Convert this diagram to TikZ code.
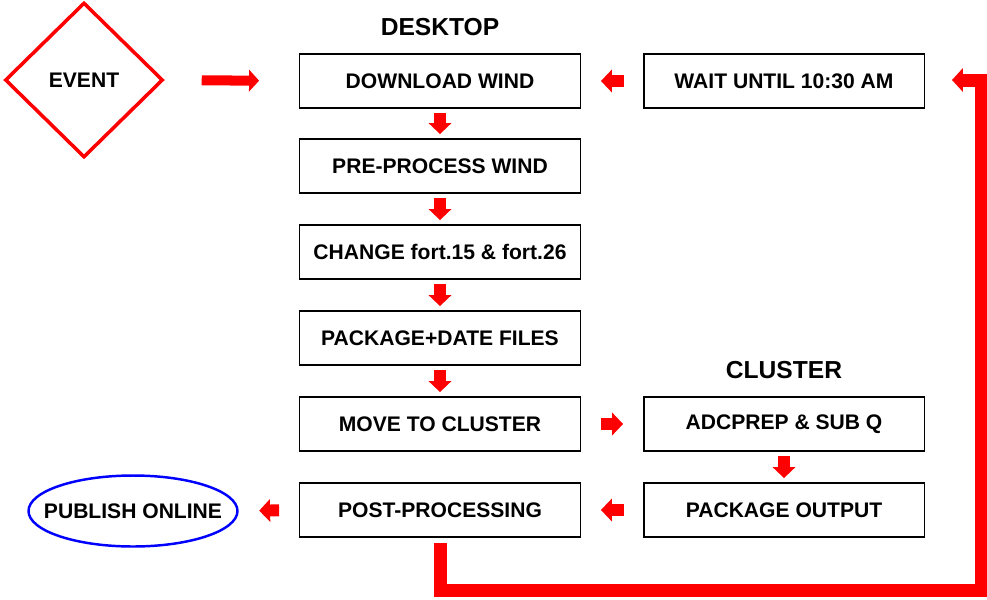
\documentclass[tikz,border=0pt]{standalone}
\usepackage{fontspec}
\setmainfont{Liberation Sans}
\usetikzlibrary{shapes.geometric,arrows.meta}

\begin{document}
\begin{tikzpicture}[x=0.02cm,y=-0.02cm,
  box/.style={draw,line width=1.1pt,minimum width=5.62cm,minimum height=1.08cm,
    font=\bfseries\fontsize{12}{14}\selectfont},
  title/.style={font=\bfseries\fontsize{14}{16}\selectfont},
  blk/.style={red,line width=6.8pt,-{Triangle[width=13pt,length=6.2pt,line width=0pt]}},
  fb/.style={red,line width=7.4pt,-{Triangle[width=13.6pt,length=6.2pt,line width=0pt]}}]
\useasboundingbox (0,0) rectangle (987,599);
% start and end
\node[diamond,draw=red,line width=2pt,minimum width=3.16cm,minimum height=3.1cm,
  font=\bfseries\fontsize{12}{14}\selectfont] (event) at (84,80) {EVENT};
\node[ellipse,draw=blue,line width=1.4pt,minimum width=4.18cm,minimum height=1.42cm,
  inner xsep=-0.4cm,inner ysep=0pt,
  font=\bfseries\fontsize{12}{14}\selectfont] (pub) at (133,511) {PUBLISH ONLINE};
% desktop
\node[title] (desk) at (440,27) {DESKTOP};
\node[box] (dl) at (440,81) {DOWNLOAD WIND};
\node[box] (pp) at (440,166) {PRE-PROCESS WIND};
\node[box] (chg) at (440,252) {CHANGE fort.15 \& fort.26};
\node[box] (pkg) at (440,338) {PACKAGE+DATE FILES};
\node[box] (mv) at (440,424) {MOVE TO CLUSTER};
\node[box] (post) at (440,510) {POST-PROCESSING};
% cluster
\node[box] (wait) at (784,81) {WAIT UNTIL 10:30 AM};
\node[title] (clu) at (784,370) {CLUSTER};
\node[box] (adc) at (784,424) {ADCPREP \& SUB Q};
\node[box] (out) at (784,510) {PACKAGE OUTPUT};
% arrows
\draw[red,line width=5.7pt,-{Triangle[width=12.5pt,length=5.7pt,line width=0pt]},
  shorten <=0.74cm,shorten >=0.79cm] (event.east) -- (dl.west);
\foreach \a/\b in {dl/pp,pp/chg,chg/pkg,pkg/mv,adc/out}
  \draw[blk,shorten <=0.09cm,shorten >=0.08cm] (\a.south) -- (\b.north);
\draw[blk,shorten <=0.37cm,shorten >=0.39cm] (wait.west) -- (dl.east);
\draw[blk,shorten <=0.39cm,shorten >=0.39cm] (mv.east) -- (adc.west);
\draw[blk,shorten <=0.37cm,shorten >=0.39cm] (out.west) -- (post.east);
\draw[blk,shorten <=0.39cm,shorten >=0.41cm] (post.west) -- (pub.east);
% back to the start
\coordinate (fbcorner) at (981,590);
\coordinate (fbend) at (952,80);
\draw[fb,shorten <=0.1cm] (post.south) |- (fbcorner) |- (fbend);
\end{tikzpicture}
\end{document}
